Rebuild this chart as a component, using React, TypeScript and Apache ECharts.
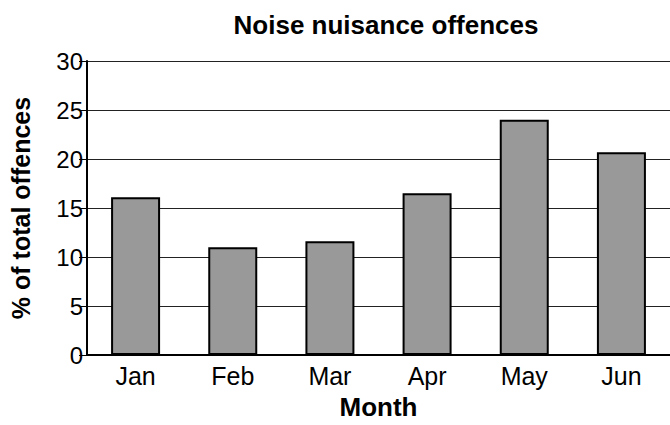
import React, { useEffect, useRef } from "react";
import * as echarts from "echarts";

const months = ["Jan", "Feb", "Mar", "Apr", "May", "Jun"];
const values = [16.1, 11.0, 11.6, 16.5, 24.0, 20.7];
const yMin = 0;
const yMax = 30;
const yStep = 5;

const FONT = "'Liberation Sans', Arial, Helvetica, sans-serif";

export default function App() {
  const ref = useRef<HTMLDivElement>(null);
  useEffect(() => {
    if (!ref.current) return;
    const chart = echarts.init(ref.current, null, { renderer: "svg" });
    chart.setOption({
      animation: false,
      backgroundColor: "#ffffff",
      title: {
        text: "Noise nuisance offences",
        left: 381,
        top: 7,
        textAlign: "center",
        textStyle: { fontFamily: FONT, fontWeight: "bold", fontSize: 26, color: "#000" },
      },
      grid: { left: 86, top: 61, width: 590, height: 294, containLabel: false },
      xAxis: {
        type: "category",
        data: months,
        name: "Month",
        nameLocation: "middle",
        nameGap: 39,
        nameTextStyle: { fontFamily: FONT, fontWeight: "bold", fontSize: 26, color: "#000" },
        axisLine: { show: true, lineStyle: { color: "#000", width: 2 } },
        axisTick: { show: false },
        axisLabel: { fontFamily: FONT, fontSize: 25, color: "#000", margin: 8 },
        splitLine: { show: false },
      },
      yAxis: {
        type: "value",
        min: yMin,
        max: yMax,
        interval: yStep,
        name: "% of total offences",
        nameLocation: "middle",
        nameGap: 54,
        nameTextStyle: { fontFamily: FONT, fontWeight: "bold", fontSize: 25, color: "#000" },
        axisLine: { show: true, lineStyle: { color: "#000", width: 2 } },
        axisTick: { show: true, length: 8, lineStyle: { color: "#000", width: 1 } },
        axisLabel: { fontFamily: FONT, fontSize: 24, color: "#000", margin: 4 },
        splitLine: { show: true, lineStyle: { color: "#222", width: 1 } },
      },
      series: [
        {
          type: "bar",
          data: values,
          barWidth: 49,
          itemStyle: { color: "#999999", borderColor: "#000", borderWidth: 2 },
        },
      ],
    });
    return () => chart.dispose();
  }, []);
  return (
    <div
      ref={ref}
      style={{ position: "fixed", left: 0, top: 0, width: 670, height: 425 }}
    />
  );
}
